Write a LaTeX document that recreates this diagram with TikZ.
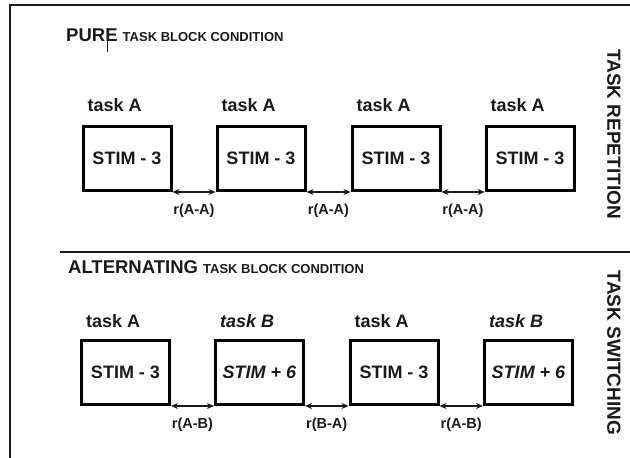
\documentclass[tikz,border=0pt]{standalone}
\usepackage{fontspec}
\setmainfont{Liberation Sans}
\usetikzlibrary{positioning,arrows.meta}
\definecolor{ink}{HTML}{1A1A1A}

\begin{document}
\begin{tikzpicture}[
  x=1pt, y=1pt,
  stim/.style={draw=black, line width=3pt, minimum width=88pt, minimum height=64pt, inner sep=0pt, text=ink, font=\bfseries\fontsize{18}{21}\selectfont},
  task/.style={anchor=base west, inner sep=0pt, text=ink, font=\bfseries\fontsize{18}{21}\selectfont},
  gap/.style={{Stealth[length=7pt,width=6pt]}-{Stealth[length=7pt,width=6pt]}, line width=1.5pt, draw=ink},
  rlbl/.style={text=ink, font=\bfseries\fontsize{14.5}{17}\selectfont},
  head/.style={anchor=base west, inner sep=0pt, text=ink, font=\bfseries\fontsize{18.5}{21}\selectfont},
  side/.style={rotate=-90, text=ink, font=\bfseries\fontsize{19}{22}\selectfont},
  rule/.style={line width=1.8pt, draw=ink}
]
  \useasboundingbox (0,0) rectangle (630,458);

  % frame and separator
  \coordinate (ftl) at (10,453);
  \coordinate (ftr) at (631,453);
  \coordinate (fbl) at (10,-1);
  \draw[rule] (ftr) -- (ftl) -- (fbl);
  \coordinate (sepl) at (60,206);
  \coordinate (sepr) at (631,206);
  \draw[rule, line width=2pt] (sepl) -- (sepr);

  % pure block
  \node[head] (pure) at (66,416) {PURE {\fontsize{13}{15}\selectfont TASK BLOCK CONDITION}};
  \coordinate (curtop) at (107,430);
  \coordinate (curbot) at (107,406);
  \draw[line width=0.9pt, draw=ink] (curtop) -- (curbot);

  \node[stim] (p1) at (127,299.5) {STIM - 3};
  \node[stim] (p2) at (261,299.5) {STIM - 3};
  \node[stim] (p3) at (396,299.5) {STIM - 3};
  \node[stim] (p4) at (530,299.5) {STIM - 3};

  \node[task] (tp1) at ([xshift=6pt,yshift=13pt]p1.north west) {task A};
  \node[task] (tp2) at ([xshift=6pt,yshift=13pt]p2.north west) {task A};
  \node[task] (tp3) at ([xshift=6pt,yshift=13pt]p3.north west) {task A};
  \node[task] (tp4) at ([xshift=6pt,yshift=13pt]p4.north west) {task A};

  \draw[gap] (p1.south east) -- node[rlbl, below=8pt]{r(A-A)} (p2.south west);
  \draw[gap] (p2.south east) -- node[rlbl, below=8pt]{r(A-A)} (p3.south west);
  \draw[gap] (p3.south east) -- node[rlbl, below=8pt]{r(A-A)} (p4.south west);

  \node[side] (rep) at (614,324) {TASK REPETITION};

  % alternating block
  \node[head] (alt) at (68,184) {ALTERNATING {\fontsize{13}{15}\selectfont TASK BLOCK CONDITION}};

  \node[stim] (a1) at (125.5,85.5) {STIM - 3};
  \node[stim] (a2) at (259.5,85.5) {\itshape STIM + 6};
  \node[stim] (a3) at (394,85.5) {STIM - 3};
  \node[stim] (a4) at (528.5,85.5) {\itshape STIM + 6};

  \node[task] (ta1) at ([xshift=6pt,yshift=11pt]a1.north west) {task A};
  \node[task] (ta2) at ([xshift=6pt,yshift=11pt]a2.north west) {\itshape task B};
  \node[task] (ta3) at ([xshift=6pt,yshift=11pt]a3.north west) {task A};
  \node[task] (ta4) at ([xshift=6pt,yshift=11pt]a4.north west) {\itshape task B};

  \draw[gap] (a1.south east) -- node[rlbl, below=8pt]{r(A-B)} (a2.south west);
  \draw[gap] (a2.south east) -- node[rlbl, below=8pt]{r(B-A)} (a3.south west);
  \draw[gap] (a3.south east) -- node[rlbl, below=8pt]{r(A-B)} (a4.south west);

  \node[side] (sw) at (614,105) {TASK SWITCHING};
\end{tikzpicture}
\end{document}
